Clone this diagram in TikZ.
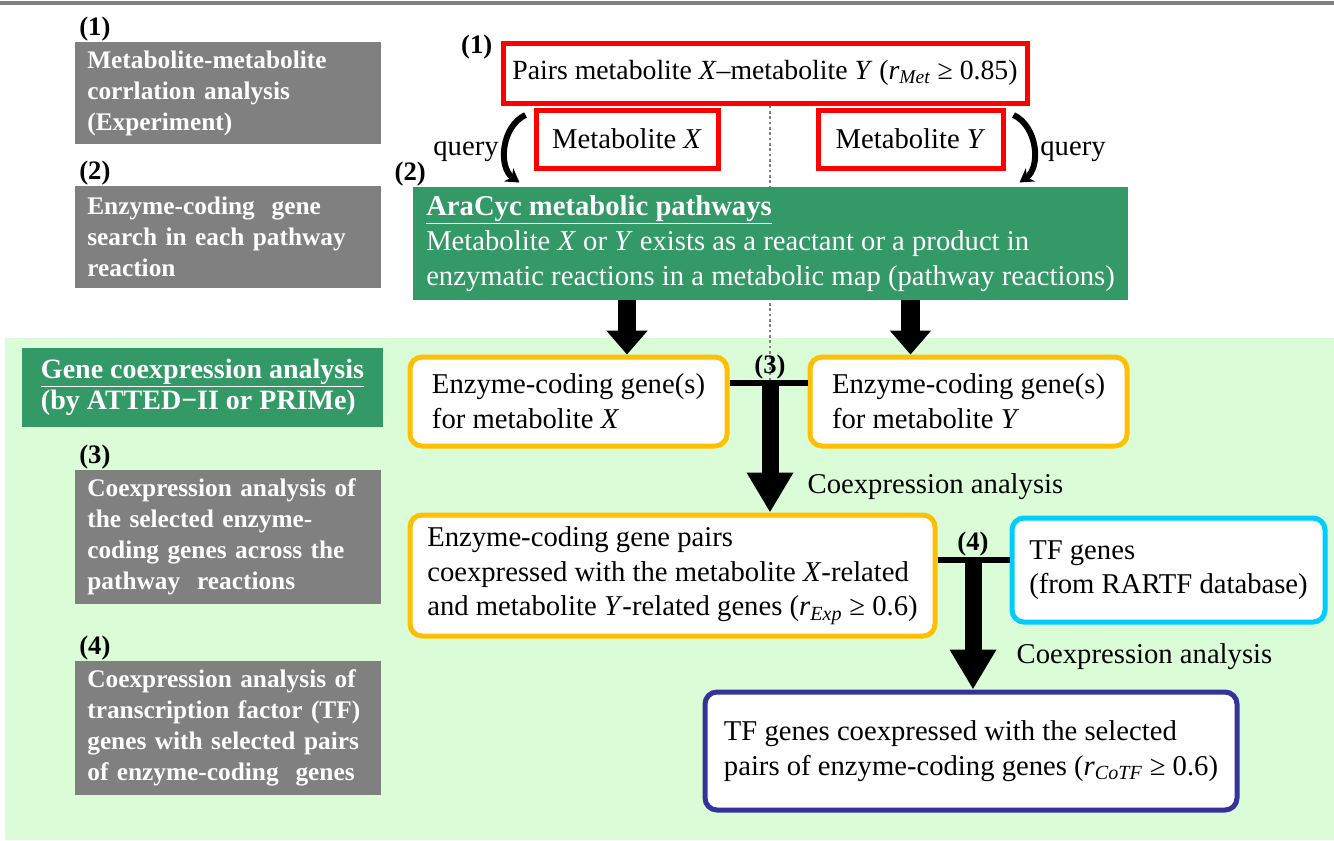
\documentclass[tikz,border=0pt]{standalone}
\usepackage{fontspec}
\setmainfont{Liberation Serif}
\usetikzlibrary{arrows.meta,positioning}

\definecolor{boxgray}{RGB}{128,128,128}
\definecolor{pathgreen}{RGB}{51,153,102}
\definecolor{bggreen}{RGB}{218,252,214}
\definecolor{metred}{RGB}{255,0,0}
\definecolor{geneyellow}{RGB}{255,192,0}
\definecolor{tfcyan}{RGB}{0,204,255}
\definecolor{tfnavy}{RGB}{51,51,153}

\newcommand{\mainfs}{\fontsize{21.5}{26}\selectfont}
\newcommand{\stepfs}{\fontsize{19}{23.3}\selectfont\bfseries}

\begin{document}
\begin{tikzpicture}[x=0.75pt,y=-0.75pt,
	every node/.style={font=\mainfs},
	stepbox/.style={fill=boxgray, text=white, font=\stepfs, text width=211pt,
		align=left, inner xsep=9pt, minimum height=#1},
	stepnum/.style={font=\fontsize{20}{24}\selectfont\bfseries, inner sep=0pt},
	pathbox/.style={fill=pathgreen, text=white, align=left},
	metbox/.style={draw=metred, line width=3.75pt, fill=white, minimum height=43.5pt},
	genebox/.style={draw=#1, line width=3.75pt, rounded corners=9pt, fill=white, align=left},
	bigarrow/.style={line width=14pt, -{Triangle[length=18pt,width=30pt]}},
	tarrow/.style={line width=12.75pt, -{Triangle[length=30pt,width=33pt]}},
	barline/.style={line width=4.5pt},
	qarrow/.style={line width=4.5pt, -{Stealth[length=10pt,width=12pt]}}]
		\useasboundingbox (0,0) rectangle (1334,840);
		\fill[bggreen] (5,338) rectangle (1334,840);
		\draw[boxgray, line width=2.5pt] (0,3) -- (1334,3);
		
		% left column: steps
		\node[stepbox=76.5pt] (s1) at (228,93) {Metabolite-metabolite\\ corrlation analysis\\ (Experiment)};
		\node[stepbox=76.5pt] (s2) at (228,237) {Enzyme-coding\ \ gene\\ search in each pathway\\ reaction};
		\node[pathbox, font=\fontsize{21}{23.5}\selectfont\bfseries, minimum width=270.75pt, minimum height=59.25pt] (gca) at (202.5,387.5) {\underline{Gene coexpression analysis}\\ (by ATTED−II or PRIMe)};
		\node[stepbox=100.5pt] (s3) at (228,537) {Coexpression analysis of\\ the selected enzyme-\\ coding genes across the\\ pathway\ \ reactions};
		\node[stepbox=100.5pt] (s4) at (228,728) {Coexpression analysis of\\ transcription factor (TF)\\ genes with selected pairs\\ of enzyme-coding\ \ genes};
		\node[stepnum, anchor=south west] (n1) at ([xshift=3pt]s1.north west) {(1)};
		\node[stepnum, anchor=south west] (n2) at ([xshift=3pt]s2.north west) {(2)};
		\node[stepnum, anchor=south west] (n3) at ([xshift=3pt]s3.north west) {(3)};
		\node[stepnum, anchor=south west] (n4) at ([xshift=3pt]s4.north west) {(4)};
		
		% right column: flow
		\node[metbox, minimum width=393pt, minimum height=45pt, font=\fontsize{20.8}{25}\selectfont] (pairs) at (765,73) {Pairs metabolite \textit{X}–metabolite \textit{Y} (\textit{r}\textsubscript{\textit{Met}} ≥ 0.85)};
		\coordinate (j3) at (770,383);
		\coordinate (j4) at (973,560);
		\draw[gray, dotted, line width=2pt] (pairs.south -| j3) -- (j3);
		\node[metbox, minimum width=136.5pt] (metX) at (627,139) {Metabolite \textit{X}};
		\node[metbox, minimum width=138.75pt] (metY) at (910.5,139) {Metabolite \textit{Y}};
		\node[pathbox, minimum width=536.25pt, minimum height=84.75pt] (aracyc) at (770.5,243.5) {\underline{\textbf{AraCyc metabolic pathways}}\\ Metabolite \textit{X} or \textit{Y} exists as a reactant or a product in\\ enzymatic reactions in a metabolic map (pathway reactions)};
		\node[stepnum, anchor=north east] (r1) at ([shift={(-8,-6)}]pairs.north west) {(1)};
		\node[stepnum, anchor=south east] (r2) at ([xshift=10pt]aracyc.north west) {(2)};
		
		\node (q1) at (466,152) {query};
		\node (q2) at (1073,152) {query};
		\draw[qarrow] ([shift={(-8,-24)}]metX.west) to[bend right=60] ([shift={(-14,12)}]metX.south west);
		\draw[qarrow] ([shift={(8,-24)}]metY.east) to[bend left=60] ([shift={(14,12)}]metY.south east);
		
		\node[genebox=geneyellow, minimum width=237.75pt, minimum height=66.75pt] (eX) at (568.5,401.5) {Enzyme-coding gene(s)\\ for metabolite \textit{X}};
		\node[genebox=geneyellow, minimum width=237.75pt, minimum height=66.75pt] (eY) at (968.5,401.5) {Enzyme-coding gene(s)\\ for metabolite \textit{Y}};
		\node[genebox=geneyellow, minimum width=393.75pt, minimum height=90.75pt] (gp) at (672.5,575.5) {Enzyme-coding gene pairs\\ coexpressed with the metabolite \textit{X}-related\\ and metabolite \textit{Y}-related genes (\textit{r}\textsubscript{\textit{Exp}} ≥ 0.6)};
		\node[genebox=tfcyan, minimum width=234.75pt, minimum height=78pt] (tf) at (1168.5,570) {TF genes\\ (from RARTF database)};
		\node[genebox=tfnavy, minimum width=399pt, minimum height=88.5pt] (tfco) at (971,751) {TF genes coexpressed with the selected\\ pairs of enzyme-coding genes (\textit{r}\textsubscript{\textit{CoTF}} ≥ 0.6)};
		
		\draw[bigarrow] (aracyc.south -| metX) -- (eX.north -| metX);
		\draw[bigarrow] (aracyc.south -| metY) -- (eY.north -| metY);
		
		\draw[barline] (eX.east |- j3) -- (eY.west |- j3);
		\draw[tarrow] (j3) -- (gp.north -| j3);
		\node[stepnum, above=3pt of j3] (t3) {(3)};
		\node[anchor=west] (c3) at (803,487) {Coexpression analysis};
		
		\draw[barline] (gp.east |- j4) -- (tf.west |- j4);
		\draw[tarrow] (j4) -- (tfco.north -| j4);
		\node[stepnum, above=3pt of j4] (t4) {(4)};
		\node[anchor=west] (c4) at (1012,657) {Coexpression analysis};
	\end{tikzpicture}
\end{document}
